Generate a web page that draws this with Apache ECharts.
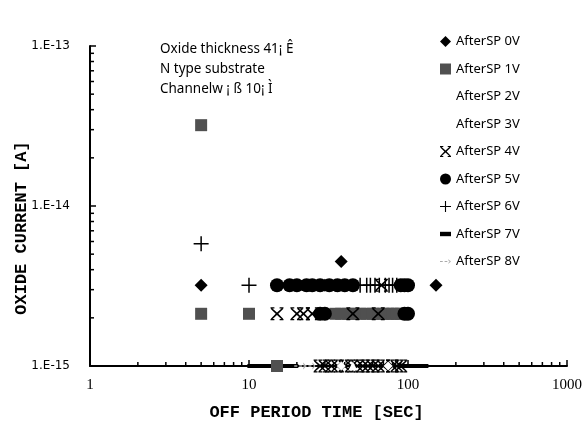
<!DOCTYPE html>
<html><head><meta charset="utf-8">
<script src="https://cdn.jsdelivr.net/npm/echarts@6/dist/echarts.min.js"></script>
<style>html,body{margin:0;padding:0;background:#fff}#c{width:587px;height:434px}</style>
</head><body><div id="c"></div>
<script>
// ---- data (x = off period time [sec], y = oxide current [A]) ----
const seriesNames = ['AfterSP 0V','AfterSP 1V','AfterSP 2V','AfterSP 3V','AfterSP 4V','AfterSP 5V','AfterSP 6V','AfterSP 7V','AfterSP 8V'];
const xTickLabels = [1, 10, 100, 1000];
const yTickLabels = [1e-15, 1e-14, 1e-13];
const xMinorTicks = [2,3,4,5,6,7,8,9,20,30,40,50,60,70,80,90,200,300,400,500,600,700,800,900];
const yMinorTicks = [2e-15,3e-15,4e-15,5e-15,6e-15,7e-15,8e-15,9e-15,2e-14,3e-14,4e-14,5e-14,6e-14,7e-14,8e-14,9e-14];

const s0V = [[5,3.2e-15],[30,3.2e-15],[35,3.2e-15],[38,4.5e-15],[150,3.2e-15]];
const s1V = [[5,3.2e-14],[5,2.12e-15],[10,2.12e-15],[15,1e-15],[35,2.12e-15],[38,2.12e-15],[42,2.12e-15],[46,2.12e-15],[50,2.12e-15],[55,2.12e-15],[60,2.12e-15],[65,2.12e-15],[70,2.12e-15],[75,2.12e-15],[80,2.12e-15],[85,2.12e-15],[90,2.12e-15]];
const s2V = [[38,1e-15],[75,1e-15]];
const s3V = [[45,1e-15]];
const s4V = [[15,2.12e-15],[20,2.12e-15],[22,2.12e-15],[25,2.12e-15],[45,2.12e-15],[65,2.12e-15],[68,3.2e-15],
             [28,1e-15],[30,1e-15],[33,1e-15],[36,1e-15],[40,1e-15],[44,1e-15],[48,1e-15],[52,1e-15],[56,1e-15],[60,1e-15],[65,1e-15],[70,1e-15],[80,1e-15],[85,1e-15],[90,1e-15]];
const s5V = [[15,3.2e-15],[18,3.2e-15],[20,3.2e-15],[23,3.2e-15],[25,3.2e-15],[28,3.2e-15],[32,3.2e-15],[36,3.2e-15],[40,3.2e-15],[45,3.2e-15],[90,3.2e-15],[95,3.2e-15],[100,3.2e-15],
             [28,2.12e-15],[30,2.12e-15],[95,2.12e-15],[100,2.12e-15]];
const s6V = [[5,5.8e-15],[10,3.2e-15],[50,3.2e-15],[55,3.2e-15],[58,3.2e-15],[62,3.2e-15],[66,3.2e-15],[72,3.2e-15],[76,3.2e-15],[80,3.2e-15],[85,3.2e-15]];
const s7V = [[10.5,1e-15],[11.5,1e-15],[12.5,1e-15],[13.5,1e-15],[16,1e-15],[17,1e-15],[18,1e-15],[19,1e-15],[95,1e-15],[105,1e-15],[115,1e-15],[125,1e-15]];
const s8V = [[21,1e-15],[24,1e-15]];

const noteLines = ['Oxide thickness 41¡ Ê', 'N type substrate', 'Channelw ¡ ß 10¡ Ì'];

// ---- chart ----
const X_MIN = xTickLabels[0], X_MAX = xTickLabels[xTickLabels.length-1];
const Y_MIN = yTickLabels[0], Y_MAX = yTickLabels[yTickLabels.length-1];

const diamondPath = 'path://M5,0 L10,5 L5,10 L0,5 Z';
const starPath = 'path://M2,1 L10,8 L18,1 L19.5,2.5 L12,10 L19.5,17.5 L18,19 L10,12 L2,19 L0.5,17.5 L8,10 L0.5,2.5 Z M0,0 L6,0 L6,2 L0,2 Z M14,0 L20,0 L20,2 L14,2 Z M0,18 L6,18 L6,20 L0,20 Z M14,18 L20,18 L20,20 L14,20 Z';
const plusPath = 'path://M9,0 L11,0 L11,9 L20,9 L20,11 L11,11 L11,20 L9,20 L9,11 L0,11 L0,9 L9,9 Z';
const arrowPath = 'path://M0,4 L3,4 L3,5 L0,5 Z M5,4 L8,4 L8,5 L5,5 Z M9,2 L12,4.5 L9,7 L9,6 L10.5,4.5 L9,3 Z';
const dashPath = 'path://M0,0 L10,0 L10,4 L0,4 Z';

function sc(name, data, symbol, size, color, extra) {
  return Object.assign({
    name, type: 'scatter', data, symbol, symbolSize: size,
    itemStyle: { color, opacity: 1 }, clip: false,
    emphasis: { disabled: true }
  }, extra || {});
}

const tickX = {
  type: 'custom', silent: true, clip: false, legendHoverLink: false,
  data: xMinorTicks.map(v => [v, Y_MIN]),
  renderItem: (p, api) => {
    const pt = api.coord([api.value(0), Y_MIN]);
    return { type: 'line', shape: { x1: pt[0], y1: pt[1], x2: pt[0], y2: pt[1] - 4 }, style: { stroke: '#000', lineWidth: 1.5 } };
  }
};
const tickY = {
  type: 'custom', silent: true, clip: false, legendHoverLink: false,
  data: yMinorTicks.map(v => [X_MIN, v]),
  renderItem: (p, api) => {
    const pt = api.coord([X_MIN, api.value(1)]);
    return { type: 'line', shape: { x1: pt[0], y1: pt[1], x2: pt[0] + 4, y2: pt[1] }, style: { stroke: '#000', lineWidth: 1.5 } };
  }
};

const legendIcons = { 'AfterSP 1V': 'rect', 'AfterSP 7V': dashPath, 'AfterSP 8V': arrowPath };

const chart = echarts.init(document.getElementById('c'), null, { renderer: 'canvas' });
chart.setOption({
  animation: false,
  backgroundColor: '#fff',
  grid: { left: 90, right: 20, top: 46, bottom: 68, containLabel: false },
  legend: {
    data: seriesNames.map(n => legendIcons[n] ? { name: n, icon: legendIcons[n] } : n),
    orient: 'vertical', left: 435, top: 30,
    itemWidth: 11, itemHeight: 11, itemGap: 14.5,
    textStyle: { fontFamily: 'Noto Sans', fontSize: 13, color: '#000' },
    selectedMode: false
  },
  xAxis: {
    type: 'log', logBase: 10, min: X_MIN, max: X_MAX,
    name: 'OFF PERIOD TIME [SEC]', nameLocation: 'middle', nameGap: 38,
    nameTextStyle: { fontFamily: 'Liberation Mono', fontWeight: 'bold', fontSize: 17, color: '#000', padding: [0, 24, 0, 0] },
    axisLine: { show: true, lineStyle: { color: '#000', width: 2 } },
    axisTick: { show: true, inside: true, length: 6, lineStyle: { color: '#000', width: 1.5 } },
    axisLabel: { margin: 12, fontFamily: 'Liberation Serif', fontSize: 15, color: '#000',
                 formatter: v => String(Math.round(v)) },
    splitLine: { show: false }
  },
  yAxis: {
    type: 'log', logBase: 10, min: Y_MIN, max: Y_MAX,
    axisLine: { show: true, lineStyle: { color: '#000', width: 2 } },
    axisTick: { show: true, inside: true, length: 6, lineStyle: { color: '#000', width: 1.5 } },
    axisLabel: { margin: 20, fontFamily: 'DejaVu Sans', fontSize: 12, color: '#000',
                 formatter: v => '1.E' + Math.round(Math.log10(v)) },
    splitLine: { show: false }
  },
  graphic: [
    { type: 'text', left: 160, top: 39, style: { text: noteLines.join('\n'), fontFamily: 'Noto Sans', fontSize: 13.5, lineHeight: 20, fill: '#000' } },
    { type: 'text', x: 22, y: 228, rotation: Math.PI / 2,
      style: { text: 'OXIDE CURRENT [A]', fontFamily: 'Liberation Mono', fontWeight: 'bold', fontSize: 17, fill: '#000', align: 'center', verticalAlign: 'middle' } }
  ],
  series: [
    tickX, tickY,
    sc(seriesNames[7], s7V, dashPath, [10, 4], '#000'),
    sc(seriesNames[1], s1V, 'rect', 12, '#505050'),
    sc(seriesNames[5], s5V, 'circle', 14, '#000'),
    sc(seriesNames[0], s0V, diamondPath, 13, '#000'),
    sc(seriesNames[4], s4V, starPath, 13, '#000'),
    sc(seriesNames[6], s6V, plusPath, 15, '#000'),
    sc(seriesNames[2], s2V, diamondPath, 9, '#fff'),
    sc(seriesNames[3], s3V, 'triangle', 9, '#fff'),
    sc(seriesNames[8], s8V, arrowPath, [12, 7], '#aaa')
  ]
});
</script></body></html>
